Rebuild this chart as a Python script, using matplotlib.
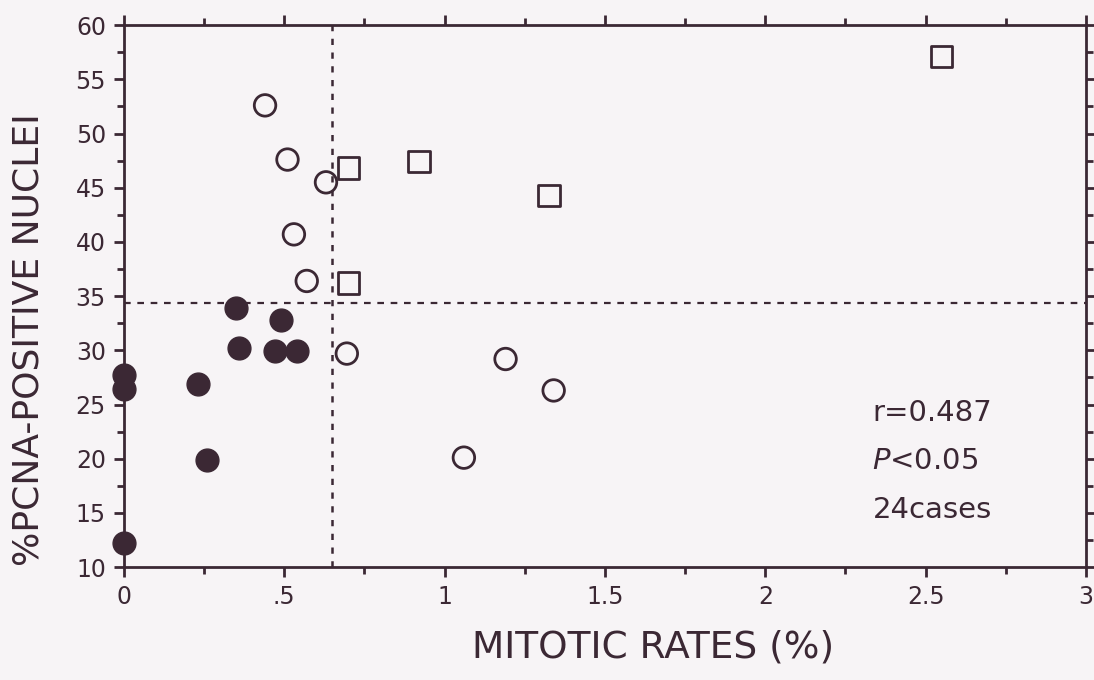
import matplotlib.pyplot as plt
from matplotlib.ticker import MultipleLocator, FixedLocator

# low mitotic rate / low PCNA group (filled circles)
filled_x = [0.0, 0.0, 0.0, 0.23, 0.26, 0.35, 0.36, 0.49, 0.47, 0.54]
filled_y = [27.7, 26.4, 12.2, 26.9, 19.9, 33.9, 30.2, 32.8, 29.9, 29.9]

# open circles
open_x = [0.44, 0.51, 0.63, 0.53, 0.57, 0.695, 1.19, 1.34, 1.06]
open_y = [52.6, 47.6, 45.5, 40.7, 36.4, 29.7, 29.2, 26.3, 20.1]

# open squares (high / high)
sq_x = [0.70, 0.92, 1.325, 0.70, 2.55]
sq_y = [46.8, 47.4, 44.3, 36.2, 57.1]

cut_x = 0.65
cut_y = 34.4

x_ticks = [0, 0.5, 1, 1.5, 2, 2.5, 3]
x_ticklabels = ['0', '.5', '1', '1.5', '2', '2.5', '3']
y_ticks = [10, 15, 20, 25, 30, 35, 40, 45, 50, 55, 60]

ink = '#3b2834'
bg = '#f7f4f6'
narrow = ['Liberation Sans Narrow', 'DejaVu Sans']

fig = plt.figure(figsize=(10.94, 6.8), dpi=100, facecolor=bg)
ax = fig.add_axes([0.1133, 0.166, 0.8794, 0.797])
ax.set_facecolor(bg)

ax.scatter(filled_x, filled_y, s=270, marker='o', color=ink, zorder=3, clip_on=False)
ax.scatter(open_x, open_y, s=240, marker='o', facecolor='none', edgecolor=ink,
           linewidths=2, zorder=3, clip_on=False)
ax.scatter(sq_x, sq_y, s=240, marker='s', facecolor='none', edgecolor=ink,
           linewidths=2, zorder=3, clip_on=False)

ax.axvline(cut_x, color=ink, linestyle=(0, (2.5, 3)), linewidth=1.8)
ax.axhline(cut_y, color=ink, linestyle=(0, (3, 3)), linewidth=1.6)

ax.set_xlim(0, 3)
ax.set_ylim(10, 60)
for s in ax.spines.values():
    s.set_color(ink)
    s.set_linewidth(2)

ax.xaxis.set_major_locator(FixedLocator(x_ticks))
ax.set_xticklabels(x_ticklabels, family=narrow, fontsize=17, color=ink)
ax.xaxis.set_minor_locator(MultipleLocator(0.25))
ax.yaxis.set_major_locator(FixedLocator(y_ticks))
ax.set_yticklabels([str(v) for v in y_ticks], family=narrow, fontsize=17, color=ink)
ax.yaxis.set_minor_locator(MultipleLocator(2.5))
ax.tick_params(which='both', direction='out', color=ink, width=2,
               top=True, right=True, labeltop=False, labelright=False)
ax.tick_params(which='major', length=7, pad=6)
ax.tick_params(which='minor', length=5)

ax.set_xlabel('MITOTIC RATES (%)', family=narrow, fontsize=27, color=ink)
ax.xaxis.set_label_coords(0.55, -0.115)
ax.set_ylabel('%PCNA-POSITIVE NUCLEI', fontsize=26, color=ink)
ax.yaxis.set_label_coords(-0.082, 0.42)

ax.text(0.778, 0.285, 'r=0.487', transform=ax.transAxes, fontsize=21, color=ink, va='center')
ax.text(0.778, 0.195, '$P$<0.05', transform=ax.transAxes, fontsize=21, color=ink, va='center')
ax.text(0.778, 0.105, '24cases', transform=ax.transAxes, fontsize=21, color=ink, va='center')

fig.savefig('out.png', dpi=100, facecolor=bg)
